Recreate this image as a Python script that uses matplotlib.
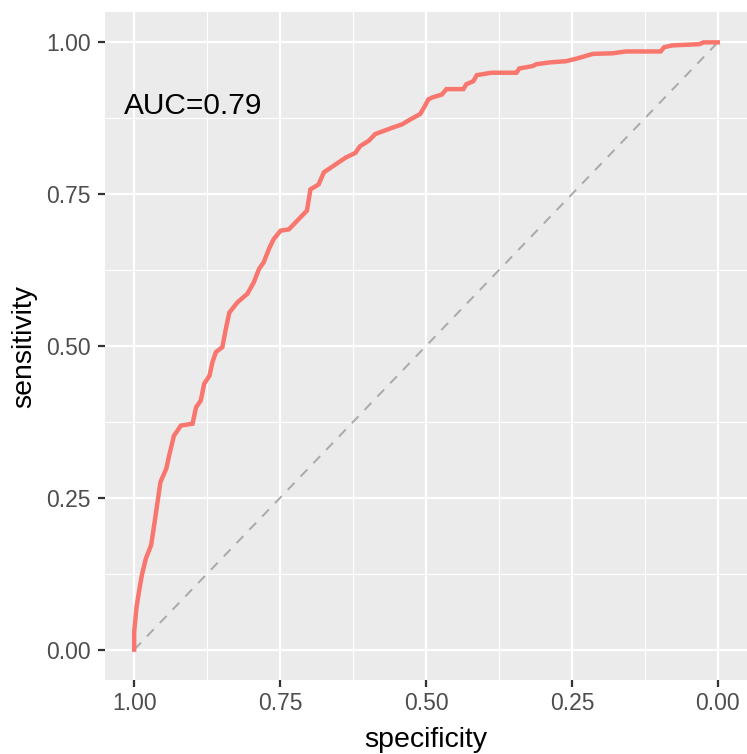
import matplotlib
matplotlib.use("Agg")
import matplotlib.pyplot as plt
from matplotlib.ticker import MultipleLocator

plt.rcParams['font.family'] = ['Liberation Sans', 'DejaVu Sans']

specificity = [1.000, 1.000, 0.996, 0.991, 0.987, 0.980, 0.971, 0.965, 0.960, 0.955,
               0.945, 0.940, 0.932, 0.920, 0.900, 0.894, 0.886, 0.880, 0.871, 0.866,
               0.860, 0.849, 0.843, 0.837, 0.823, 0.806, 0.795, 0.786, 0.778, 0.769,
               0.761, 0.749, 0.735, 0.721, 0.704, 0.698, 0.684, 0.675, 0.658, 0.638,
               0.621, 0.613, 0.598, 0.587, 0.573, 0.556, 0.541, 0.527, 0.510, 0.502,
               0.496, 0.490, 0.473, 0.465, 0.436, 0.431, 0.419, 0.413, 0.388, 0.345,
               0.340, 0.317, 0.311, 0.288, 0.260, 0.243, 0.232, 0.214, 0.180, 0.158,
               0.098, 0.092, 0.078, 0.032, 0.024, 0.000]
sensitivity = [0.000, 0.029, 0.070, 0.100, 0.122, 0.150, 0.172, 0.210, 0.243, 0.276,
               0.298, 0.320, 0.352, 0.369, 0.372, 0.399, 0.410, 0.438, 0.451, 0.473,
               0.490, 0.498, 0.528, 0.555, 0.572, 0.586, 0.605, 0.627, 0.638, 0.660,
               0.676, 0.690, 0.692, 0.706, 0.723, 0.758, 0.766, 0.786, 0.797, 0.810,
               0.818, 0.829, 0.838, 0.849, 0.854, 0.860, 0.865, 0.873, 0.882, 0.895,
               0.906, 0.909, 0.914, 0.923, 0.923, 0.931, 0.936, 0.946, 0.950, 0.950,
               0.957, 0.961, 0.964, 0.967, 0.969, 0.973, 0.976, 0.981, 0.982, 0.985,
               0.985, 0.992, 0.995, 0.997, 1.000, 1.000]
auc_label = "AUC=0.79"
ticks = [0.0, 0.25, 0.5, 0.75, 1.0]
tick_labels = ["0.00", "0.25", "0.50", "0.75", "1.00"]

fig = plt.figure(figsize=(7.47, 7.54), dpi=100)
ax = fig.add_axes([105/747, 1-680/754, 642/747, 668/754])
ax.set_facecolor('#EBEBEB')
for s in ax.spines.values():
    s.set_visible(False)

ax.set_xlim(1.05, -0.05)
ax.set_ylim(-0.05, 1.05)
ax.xaxis.set_minor_locator(MultipleLocator(0.125))
ax.yaxis.set_minor_locator(MultipleLocator(0.125))
ax.set_xticks(ticks)
ax.set_xticklabels(tick_labels)
ax.set_yticks(ticks)
ax.set_yticklabels(tick_labels)
ax.grid(which='major', color='white', linewidth=1.6)
ax.grid(which='minor', color='white', linewidth=0.8)
ax.set_axisbelow(True)
ax.tick_params(which='major', length=5, width=1.6, color='#333333',
               labelcolor='#4D4D4D', labelsize=16.5)
ax.tick_params(axis='y', pad=5.5)
ax.tick_params(axis='x', pad=4)
ax.tick_params(which='minor', length=0)

ax.plot([1, 0], [0, 1], linestyle=(0, (5, 4.5)), color='#A9A9A9', linewidth=1.4, zorder=2)
ax.plot(specificity, sensitivity, color='#F8766D', linewidth=3.2, zorder=3,
        solid_joinstyle='miter')

ax.text(1.017, 0.895, auc_label, fontsize=21.5, color='black', ha='left', va='center')

ax.set_xlabel('specificity', fontsize=20.5, color='black', labelpad=8)
ax.set_ylabel('sensitivity', fontsize=20.5, color='black', labelpad=6)

fig.savefig('out.png', dpi=100)
